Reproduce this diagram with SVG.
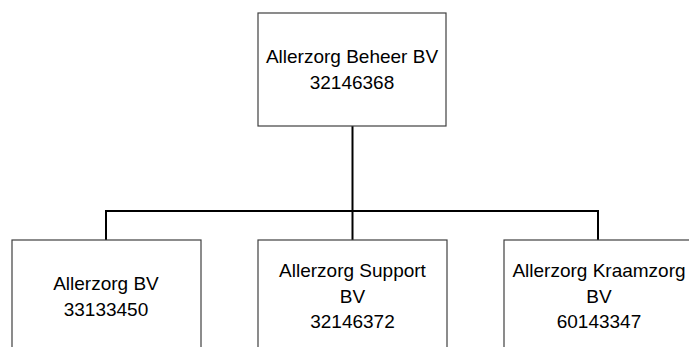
<svg xmlns="http://www.w3.org/2000/svg" width="689" height="347" viewBox="0 0 689 347">
<style>
.box{fill:#ffffff;stroke:#404040;stroke-width:1.2}
.lbl{font-family:"Liberation Sans",Arial,sans-serif;font-size:19px;fill:#000;text-anchor:middle}
.conn{fill:none;stroke:#000;stroke-width:2}
</style>
<rect width="689" height="347" fill="#ffffff"/>
<g id="connectors">
<path class="conn" d="M352.5,126 V211"/>
<path class="conn" d="M106,240 V211 H598 V240"/>
<path class="conn" d="M352.5,211 V240"/>
</g>
<g id="node-beheer">
<rect class="box" x="258" y="13" width="188" height="113"/>
<text class="lbl" x="352" y="63">Allerzorg Beheer BV</text>
<text class="lbl" x="352" y="89">32146368</text>
</g>
<g id="node-bv">
<rect class="box" x="12" y="240" width="189" height="120"/>
<text class="lbl" x="106" y="290">Allerzorg BV</text>
<text class="lbl" x="106" y="316">33133450</text>
</g>
<g id="node-support">
<rect class="box" x="258" y="240" width="189" height="120"/>
<text class="lbl" x="352.5" y="277">Allerzorg Support</text>
<text class="lbl" x="352.5" y="303">BV</text>
<text class="lbl" x="352.5" y="328">32146372</text>
</g>
<g id="node-kraamzorg">
<rect class="box" x="504" y="240" width="189" height="120"/>
<text class="lbl" x="599" y="277">Allerzorg Kraamzorg</text>
<text class="lbl" x="599" y="303">BV</text>
<text class="lbl" x="599" y="328">60143347</text>
</g>
</svg>
